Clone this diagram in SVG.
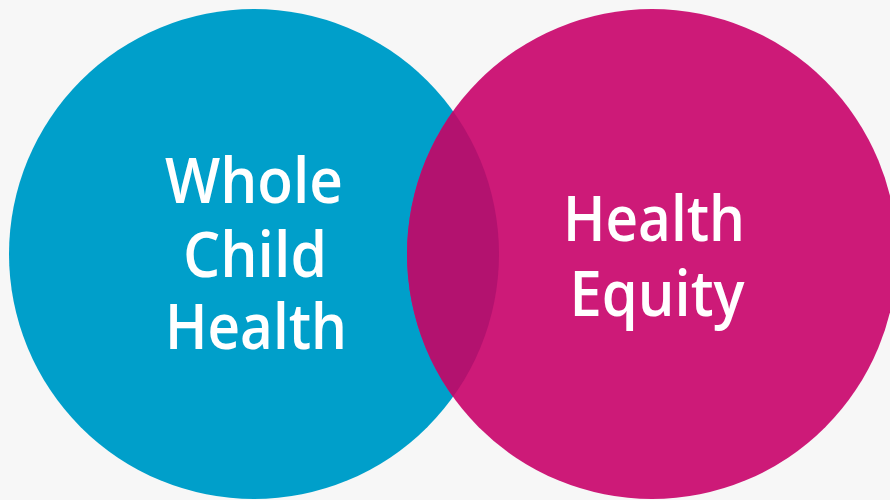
<svg xmlns="http://www.w3.org/2000/svg" width="890" height="500" viewBox="0 0 890 500">
<style>
.lbl{font-family:"Open Sans","DejaVu Sans",sans-serif;font-weight:600;font-size:64px;fill:#ffffff;text-anchor:middle}
</style>
<defs>
<clipPath id="clipBlue"><circle cx="254" cy="254" r="245"/></clipPath>
</defs>
<rect x="0" y="0" width="890" height="500" fill="#f7f7f7"/>
<g id="connectors"></g>
<g id="node-whole-child-health">
<circle cx="254" cy="254" r="245" fill="#009fca"/>
</g>
<g id="node-health-equity">
<circle cx="652" cy="254" r="245" fill="#cd1a78"/>
</g>
<g id="overlap">
<circle cx="652" cy="254" r="245" fill="#b3126f" clip-path="url(#clipBlue)"/>
</g>
<g id="labels">
<text class="lbl" x="254" y="203" textLength="178" lengthAdjust="spacingAndGlyphs">Whole</text>
<text class="lbl" x="255" y="277" textLength="144" lengthAdjust="spacingAndGlyphs">Child</text>
<text class="lbl" x="256" y="349" textLength="182" lengthAdjust="spacingAndGlyphs">Health</text>
<text class="lbl" x="654" y="241" textLength="182" lengthAdjust="spacingAndGlyphs">Health</text>
<text class="lbl" x="657" y="316" textLength="175" lengthAdjust="spacingAndGlyphs">Equity</text>
</g>
</svg>
